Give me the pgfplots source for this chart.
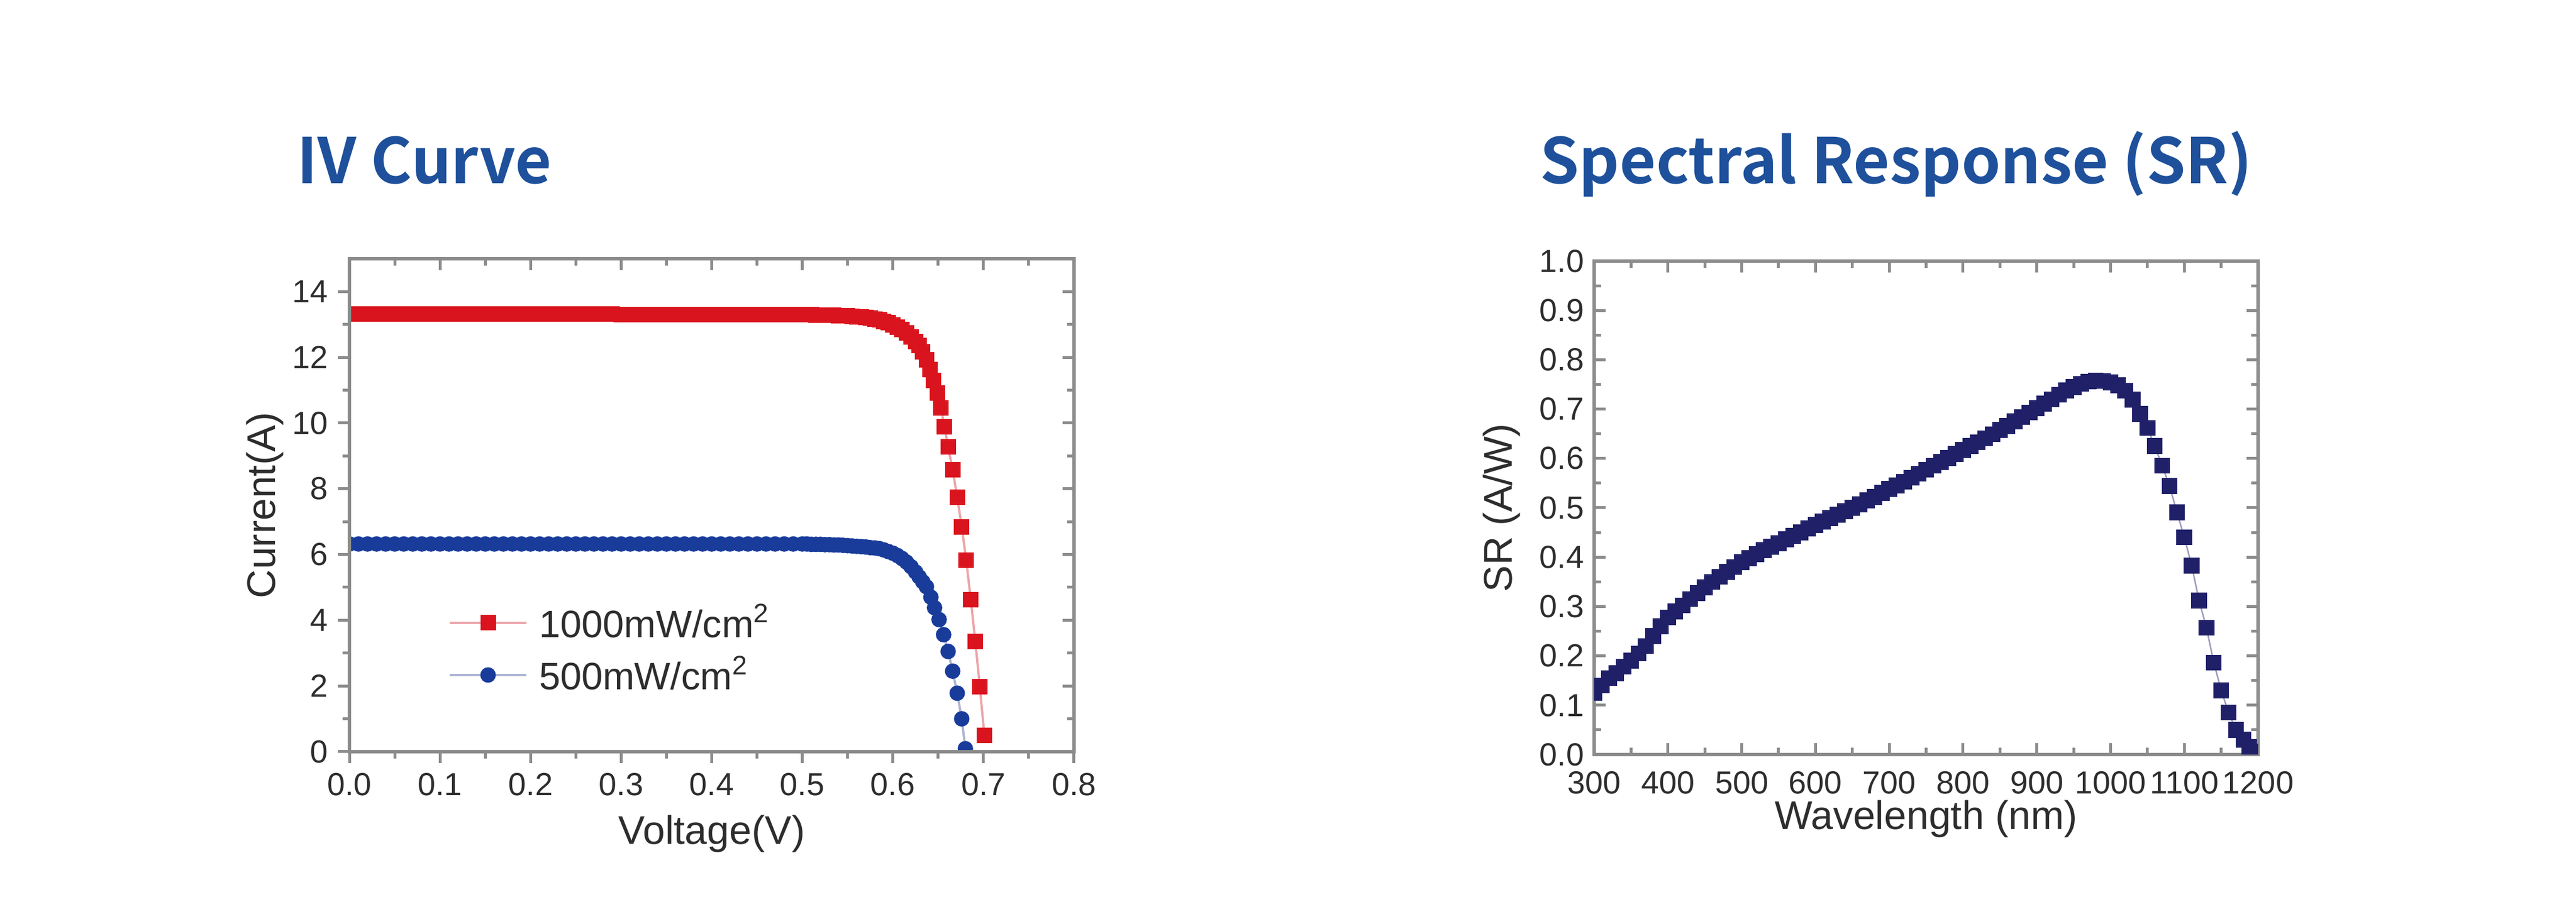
\documentclass[border=0pt]{standalone}
\usepackage{fontspec}
\setmainfont{Liberation Sans}
\newfontfamily\titlefont{Noto Sans CJK KR}[BoldFont={Noto Sans CJK KR Bold}]
\usepackage{pgfplots}
\pgfplotsset{compat=1.18}
\definecolor{titleblue}{RGB}{30,80,155}
\definecolor{ivred}{RGB}{218,20,30}
\definecolor{ivredl}{RGB}{236,165,170}
\definecolor{ivblue}{RGB}{25,60,155}
\definecolor{ivbluel}{RGB}{175,180,212}
\definecolor{srnavy}{RGB}{32,32,105}
\definecolor{axgray}{RGB}{140,140,140}
\definecolor{txt}{RGB}{45,45,45}
\pgfplotsset{
  base/.style={
    scale only axis,
    axis line style={axgray, line width=1.2bp},
    tick style={axgray, line width=1bp},
    major tick length=4bp, minor tick length=2.4bp,
    tick label style={font=\fontsize{11.2}{13}\selectfont, text=txt},
    /pgf/number format/assume math mode=true,
    clip marker paths=true,
  }
}
\begin{document}
\begin{tikzpicture}
\path[use as bounding box] (0,0) rectangle (899.4bp,322.8bp);
\node[anchor=base west, inner sep=0pt, text=titleblue, font=\titlefont\bfseries\fontsize{22}{26}\selectfont] at (103.5bp,258.6bp) {IV Curve};
\node[anchor=base west, inner sep=0pt, text=titleblue, font=\titlefont\bfseries\fontsize{22}{26}\selectfont] at (537.5bp,258.6bp) {Spectral Response (SR)};

% ---------- IV curve ----------
\begin{axis}[base,
  at={(122bp,60.2bp)}, anchor=south west, width=253bp, height=172.2bp,
  xmin=0, xmax=0.8, ymin=0, ymax=15,
  xtick={0,0.1,0.2,0.3,0.4,0.5,0.6,0.7,0.8}, ytick={0,2,4,6,8,10,12,14},
  minor x tick num=1, minor y tick num=1,
  xtick pos=left, ytick pos=left, tick align=outside,
  xticklabel style={/pgf/number format/.cd, fixed, fixed zerofill, precision=1},
  xlabel={Voltage(V)}, ylabel={Current(A)},
  label style={font=\fontsize{14}{16}\selectfont, text=txt},
  ylabel style={yshift=-3.8bp},
  legend cell align=left,
  legend image code/.code={\draw[mark repeat=2,mark phase=2] plot coordinates {(0bp,0bp)(13.4bp,0bp)(26.8bp,0bp)};},
  legend style={draw=none, fill=none, at={(axis description cs:0.136,0.2085)}, anchor=west,
    inner sep=0pt, row sep=2bp, font=\fontsize{13.4}{16}\selectfont, text=txt,
    nodes={inner ysep=1.5bp, inner xsep=4bp}},
]
\addplot[ivredl, line width=0.8bp, mark=square*, mark size=2.3bp, mark options={ivred, fill=ivred, solid}] coordinates {
(0.00,13.31)(0.01,13.31)(0.02,13.31)(0.03,13.31)(0.04,13.31)(0.05,13.31)(0.06,13.31)(0.07,13.31)(0.08,13.31)(0.09,13.31)
(0.10,13.31)(0.11,13.31)(0.12,13.31)(0.13,13.31)(0.14,13.31)(0.15,13.31)(0.16,13.31)(0.17,13.31)(0.18,13.31)(0.19,13.31)
(0.20,13.31)(0.21,13.31)(0.22,13.31)(0.23,13.31)(0.24,13.31)(0.25,13.31)(0.26,13.31)(0.27,13.31)(0.28,13.31)(0.29,13.31)
(0.30,13.30)(0.31,13.30)(0.32,13.30)(0.33,13.30)(0.34,13.30)(0.35,13.30)(0.36,13.30)(0.37,13.30)(0.38,13.30)(0.39,13.30)
(0.40,13.30)(0.41,13.30)(0.42,13.30)(0.43,13.30)(0.44,13.30)(0.45,13.30)(0.46,13.30)(0.47,13.30)(0.48,13.30)(0.49,13.30)
(0.50,13.30)(0.505,13.30)(0.51,13.30)(0.515,13.29)(0.52,13.29)(0.525,13.29)(0.53,13.28)(0.535,13.28)(0.54,13.27)(0.545,13.27)
(0.55,13.26)(0.555,13.25)(0.56,13.24)(0.565,13.23)(0.57,13.21)(0.575,13.19)(0.58,13.17)(0.585,13.14)(0.59,13.10)(0.595,13.05)
(0.60,12.99)(0.605,12.92)(0.61,12.84)(0.615,12.74)(0.62,12.62)(0.625,12.48)(0.629,12.36)(0.633,12.17)(0.637,11.92)(0.641,11.63)
(0.645,11.30)(0.649,10.91)(0.653,10.46)(0.657,9.89)(0.661,9.27)(0.666,8.58)(0.671,7.75)(0.676,6.84)(0.681,5.82)(0.686,4.63)
(0.691,3.35)(0.696,1.98)(0.701,0.50)
};
\addlegendentry{1000mW/cm\textsuperscript{2}}
\addplot[ivbluel, line width=0.8bp, mark=*, mark size=2.3bp, mark options={ivblue, fill=ivblue, solid}] coordinates {
(0.00,6.32)(0.01,6.32)(0.02,6.32)(0.03,6.32)(0.04,6.32)(0.05,6.32)(0.06,6.32)(0.07,6.32)(0.08,6.32)(0.09,6.32)
(0.10,6.32)(0.11,6.32)(0.12,6.32)(0.13,6.32)(0.14,6.32)(0.15,6.32)(0.16,6.32)(0.17,6.32)(0.18,6.32)(0.19,6.32)
(0.20,6.32)(0.21,6.32)(0.22,6.32)(0.23,6.32)(0.24,6.32)(0.25,6.32)(0.26,6.32)(0.27,6.32)(0.28,6.32)(0.29,6.32)
(0.30,6.32)(0.31,6.32)(0.32,6.32)(0.33,6.32)(0.34,6.32)(0.35,6.32)(0.36,6.32)(0.37,6.32)(0.38,6.32)(0.39,6.32)
(0.40,6.32)(0.41,6.32)(0.42,6.32)(0.43,6.32)(0.44,6.32)(0.45,6.32)(0.46,6.32)(0.47,6.32)(0.48,6.32)(0.49,6.32)
(0.50,6.32)(0.505,6.32)(0.51,6.31)(0.515,6.31)(0.52,6.31)(0.525,6.30)(0.53,6.30)(0.535,6.29)(0.54,6.29)(0.545,6.28)
(0.55,6.27)(0.555,6.26)(0.56,6.25)(0.565,6.24)(0.57,6.23)(0.575,6.21)(0.58,6.20)(0.585,6.18)(0.59,6.14)(0.595,6.09)
(0.60,6.04)(0.605,5.97)(0.61,5.88)(0.615,5.77)(0.62,5.63)(0.625,5.47)(0.629,5.32)(0.633,5.17)(0.637,5.02)(0.642,4.70)
(0.646,4.38)(0.651,4.02)(0.656,3.56)(0.661,3.05)(0.666,2.45)(0.671,1.78)(0.676,1.00)(0.680,0.09)
};
\addlegendentry{500mW/cm\textsuperscript{2}}
\end{axis}
% mirrored inward ticks on top and right
\begin{axis}[base,
  at={(122bp,60.2bp)}, anchor=south west, width=253bp, height=172.2bp,
  xmin=0, xmax=0.8, ymin=0, ymax=15,
  xtick={0,0.1,0.2,0.3,0.4,0.5,0.6,0.7,0.8}, ytick={0,2,4,6,8,10,12,14},
  minor x tick num=1, minor y tick num=1,
  xtick pos=right, ytick pos=right, tick align=inside,
  xticklabels={}, yticklabels={},
]
\end{axis}

% ---------- Spectral response ----------
\begin{axis}[base,
  at={(556.6bp,59.2bp)}, anchor=south west, width=231.8bp, height=172.4bp,
  xmin=300, xmax=1200, ymin=0, ymax=1,
  xtick={300,400,500,600,700,800,900,1000,1100,1200},
  ytick={0,0.1,0.2,0.3,0.4,0.5,0.6,0.7,0.8,0.9,1.0},
  minor x tick num=1, minor y tick num=1,
  tick align=inside,
  xticklabel style={yshift=-2.3bp, /pgf/number format/.cd, set thousands separator={}},
  yticklabel style={/pgf/number format/.cd, fixed, fixed zerofill, precision=1},
  xlabel={Wavelength (nm)}, ylabel={SR (A/W)},
  label style={font=\fontsize{14}{16}\selectfont, text=txt},
  xlabel style={yshift=4.6bp},
]
\addplot[srnavy!45, line width=0.5bp, mark=square*, mark size=2.5bp, mark options={srnavy, fill=srnavy, solid}] table {
300 0.125
310 0.140
320 0.155
330 0.165
340 0.178
350 0.190
360 0.205
370 0.220
380 0.240
390 0.260
400 0.278
410 0.290
420 0.302
430 0.315
440 0.327
450 0.339
460 0.350
470 0.360
480 0.370
490 0.380
500 0.390
510 0.398
520 0.406
530 0.414
540 0.421
550 0.428
560 0.436
570 0.443
580 0.450
590 0.458
600 0.465
610 0.472
620 0.479
630 0.486
640 0.493
650 0.500
660 0.507
670 0.515
680 0.522
690 0.530
700 0.538
710 0.545
720 0.553
730 0.561
740 0.569
750 0.577
760 0.585
770 0.593
780 0.601
790 0.609
800 0.617
810 0.625
820 0.633
830 0.641
840 0.649
850 0.658
860 0.666
870 0.675
880 0.684
890 0.693
900 0.702
910 0.711
920 0.720
930 0.729
940 0.738
950 0.745
960 0.751
970 0.756
980 0.758
990 0.757
1000 0.754
1010 0.748
1020 0.737
1030 0.719
1040 0.690
1050 0.662
1060 0.625
1070 0.585
1080 0.544
1090 0.491
1100 0.440
1110 0.383
1120 0.312
1130 0.257
1140 0.186
1150 0.130
1160 0.085
1170 0.050
1180 0.030
1188 0.015
1195 0.006
};
\end{axis}
\end{tikzpicture}
\end{document}
